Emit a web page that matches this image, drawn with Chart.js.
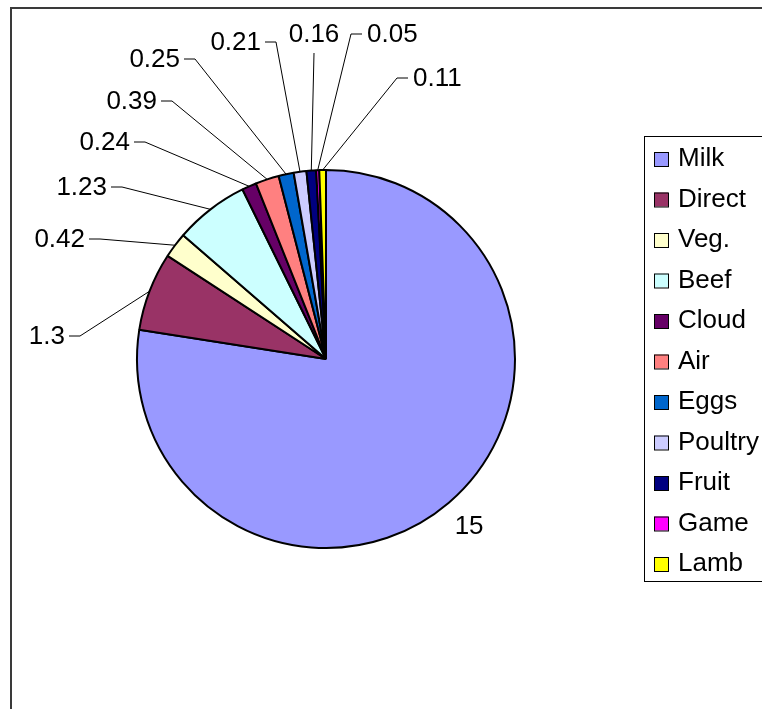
<!DOCTYPE html>
<html>
<head>
<meta charset="utf-8">
<script src="https://cdn.jsdelivr.net/npm/chart.js@4.4.0/dist/chart.umd.min.js"></script>
<style>
  body { margin: 0; background: #fff; }
  #wrap { width: 762px; height: 709px; position: relative; }
</style>
</head>
<body>
<div id="wrap"><canvas id="pieChart" width="762" height="709"></canvas></div>
<script>
// data
const categories = ['Milk', 'Direct', 'Veg.', 'Beef', 'Cloud', 'Air', 'Eggs', 'Poultry', 'Fruit', 'Game', 'Lamb'];
const values = [15, 1.3, 0.42, 1.23, 0.24, 0.39, 0.25, 0.21, 0.16, 0.05, 0.11];
const valueLabels = ['15', '1.3', '0.42', '1.23', '0.24', '0.39', '0.25', '0.21', '0.16', '0.05', '0.11'];
const sliceColors = ['#9999FF', '#993366', '#FFFFCC', '#CCFFFF', '#660066', '#FF8080',
                     '#0066CC', '#CCCCFF', '#000080', '#FF00FF', '#FFFF00'];

// where each data label sits (elbow of the leader line); null = placed along the slice
const labelLayout = [
  null,
  { x: 80, y: 336, side: 'left' },
  { x: 100, y: 239, side: 'left' },
  { x: 122, y: 187, side: 'left' },
  { x: 145, y: 142, side: 'left' },
  { x: 172, y: 101, side: 'left' },
  { x: 195, y: 59, side: 'left' },
  { x: 276, y: 42, side: 'left' },
  { x: 314, y: 53, side: 'top' },
  { x: 351, y: 34, side: 'right' },
  { x: 397, y: 78, side: 'right' }
];

const FONT = '26px "Liberation Sans", Arial, sans-serif';

// frame + legend box like the spreadsheet export
const framePlugin = {
  id: 'frame',
  beforeDraw(chart) {
    const ctx = chart.ctx;
    ctx.save();
    ctx.fillStyle = '#fff';
    ctx.fillRect(0, 0, chart.width, chart.height);
    ctx.strokeStyle = '#3a3a3a';
    ctx.lineWidth = 2;
    ctx.strokeRect(11, 8, 900, 900);
    ctx.restore();
  },
  afterDraw(chart) {
    const ctx = chart.ctx;
    const ds = chart.data.datasets[0];
    ctx.save();
    ctx.strokeStyle = '#000';
    ctx.lineWidth = 1;
    ctx.strokeRect(644.5, 136.5, 200, 445);
    ctx.font = FONT;
    ctx.textBaseline = 'middle';
    ctx.textAlign = 'left';
    chart.data.labels.forEach((name, i) => {
      const cy = 159 + i * 40.5;
      ctx.fillStyle = ds.backgroundColor[i];
      ctx.fillRect(654, cy - 7, 14, 14);
      ctx.strokeStyle = '#000';
      ctx.strokeRect(654.5, cy - 6.5, 14, 14);
      ctx.fillStyle = '#000';
      ctx.fillText(name, 678, cy);
    });
    ctx.restore();
  }
};

// data labels with leader lines
const leaderPlugin = {
  id: 'leaders',
  afterDatasetsDraw(chart) {
    const ctx = chart.ctx;
    const meta = chart.getDatasetMeta(0);
    ctx.save();
    ctx.font = FONT;
    ctx.fillStyle = '#000';
    ctx.strokeStyle = '#000';
    ctx.lineWidth = 1;
    meta.data.forEach((arc, i) => {
      const p = arc.getProps(['x', 'y', 'startAngle', 'endAngle', 'outerRadius'], true);
      const mid = (p.startAngle + p.endAngle) / 2;
      const ax = p.x + Math.cos(mid) * p.outerRadius;
      const ay = p.y + Math.sin(mid) * p.outerRadius;
      const spot = labelLayout[i];
      const txt = valueLabels[i];
      if (!spot) {
        const r = p.outerRadius * 1.165;
        ctx.textAlign = 'center';
        ctx.textBaseline = 'middle';
        ctx.fillText(txt, p.x + Math.cos(mid) * r, p.y + Math.sin(mid) * r);
        return;
      }
      ctx.beginPath();
      ctx.moveTo(ax, ay);
      ctx.lineTo(spot.x, spot.y);
      if (spot.side === 'left') ctx.lineTo(spot.x - 11, spot.y);
      if (spot.side === 'right') ctx.lineTo(spot.x + 11, spot.y);
      ctx.stroke();
      ctx.textBaseline = 'middle';
      if (spot.side === 'left') {
        ctx.textAlign = 'right';
        ctx.fillText(txt, spot.x - 15, spot.y + 1);
      } else if (spot.side === 'right') {
        ctx.textAlign = 'left';
        ctx.fillText(txt, spot.x + 16, spot.y + 1);
      } else {
        ctx.textAlign = 'center';
        ctx.fillText(txt, spot.x, spot.y - 18);
      }
    });
    ctx.restore();
  }
};

const ctx = document.getElementById('pieChart').getContext('2d');
const chart = new Chart(ctx, {
  type: 'pie',
  data: {
    labels: categories,
    datasets: [{
      data: values,
      backgroundColor: sliceColors,
      borderColor: '#000',
      borderWidth: 2,
      radius: 189
    }]
  },
  options: {
    responsive: false,
    animation: false,
    layout: { padding: { left: 136, right: 246, top: 169, bottom: 160 } },
    plugins: {
      legend: { display: false },
      tooltip: { enabled: false }
    }
  },
  plugins: [framePlugin, leaderPlugin]
});
</script>
</body>
</html>
